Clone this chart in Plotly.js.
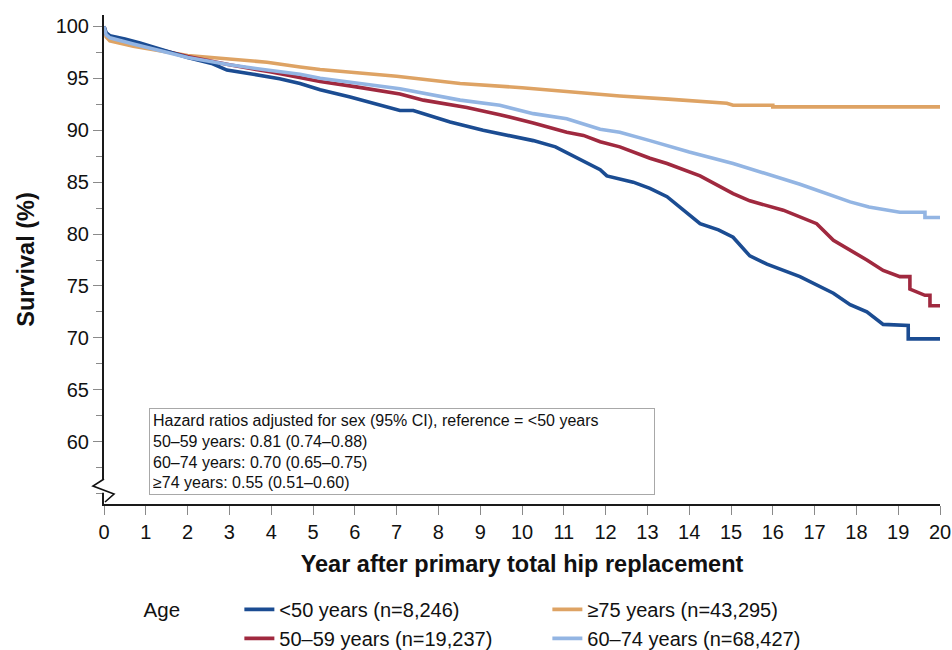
<!DOCTYPE html>
<html>
<head>
<meta charset="utf-8">
<script src="https://cdn.plot.ly/plotly-3.0.1.min.js"></script>
<style>html,body{margin:0;padding:0;background:#fff;}#chart{width:952px;height:650px;}</style>
</head>
<body>
<div id="chart"></div>
<script>
// ---- data (years after surgery, survival %) ----
var seriesNames = ["&lt;50 years (n=8,246)", "50–59 years (n=19,237)", "≥75 years (n=43,295)", "60–74 years (n=68,427)"];

var yrsLt50 = [0, 0.05, 0.14, 0.5, 0.86, 1.34, 2.0, 2.6, 2.94, 3.57, 4.2, 4.69, 5.17, 5.89, 6.5, 7.08, 7.4, 8.28, 9.07, 10.27, 10.8, 11.3, 11.87, 12.03, 12.66, 13.06, 13.47, 14.26, 14.7, 15.05, 15.45, 15.86, 16.65, 17.45, 17.85, 18.25, 18.64, 19.24, 19.24, 20];
var survLt50 = [100, 99.4, 99.1, 98.8, 98.4, 97.8, 97.0, 96.4, 95.8, 95.4, 94.95, 94.5, 93.9, 93.2, 92.5, 91.9, 91.9, 90.8, 90.0, 89.0, 88.4, 87.4, 86.2, 85.6, 85.0, 84.4, 83.6, 81.0, 80.4, 79.7, 77.9, 77.1, 75.9, 74.3, 73.2, 72.5, 71.3, 71.2, 69.9, 69.9];

var yrs5059 = [0, 0.05, 0.14, 0.86, 2.0, 3.0, 4.0, 4.69, 5.17, 6.0, 7.08, 7.64, 8.68, 9.47, 10.27, 11.07, 11.47, 11.87, 12.34, 13.06, 13.47, 14.26, 15.05, 15.45, 16.25, 17.05, 17.45, 18.25, 18.64, 19.04, 19.28, 19.28, 19.64, 19.76, 19.76, 20];
var surv5059 = [100, 99.3, 99.0, 98.2, 97.1, 96.3, 95.6, 95.1, 94.7, 94.2, 93.5, 92.9, 92.2, 91.5, 90.7, 89.8, 89.5, 88.9, 88.4, 87.3, 86.8, 85.6, 83.9, 83.2, 82.3, 81.0, 79.4, 77.5, 76.5, 75.9, 75.9, 74.7, 74.1, 74.1, 73.1, 73.1];

var yrsGe75 = [0, 0.05, 0.14, 0.7, 2.0, 3.9, 4.69, 5.17, 7.0, 8.52, 10.0, 11.87, 12.34, 13.5, 14.9, 15.05, 16.0, 16.0, 20];
var survGe75 = [100, 99.0, 98.6, 98.1, 97.2, 96.55, 96.1, 95.85, 95.2, 94.5, 94.1, 93.4, 93.3, 93.0, 92.6, 92.4, 92.4, 92.25, 92.25];

var yrs6074 = [0, 0.05, 0.14, 0.7, 2.0, 3.0, 3.9, 4.69, 5.17, 6.0, 7.08, 8.52, 9.47, 10.27, 11.07, 11.87, 12.34, 13.06, 14.0, 15.05, 15.85, 16.65, 17.85, 18.3, 19.04, 19.64, 19.64, 20];
var surv6074 = [100, 99.2, 98.9, 98.3, 97.0, 96.3, 95.8, 95.4, 95.0, 94.6, 94.0, 92.9, 92.4, 91.6, 91.1, 90.1, 89.8, 89.0, 87.9, 86.8, 85.8, 84.8, 83.1, 82.6, 82.1, 82.1, 81.6, 81.6];

var yTickVals = [60, 65, 70, 75, 80, 85, 90, 95, 100];
var xTickVals = [0,1,2,3,4,5,6,7,8,9,10,11,12,13,14,15,16,17,18,19,20];

var legendTitle = "Age";
var hrTitle = "Hazard ratios adjusted for sex (95% CI), reference = &lt;50 years";
var hrGroups = ["50–59 years", "60–74 years", "≥74 years"];
var hrValues = ["0.81 (0.74–0.88)", "0.70 (0.65–0.75)", "0.55 (0.51–0.60)"];

// ---- styling ----
var FONT = "Liberation Sans, Arial, Helvetica, sans-serif";
var colors = {lt50: "#1b4c92", s5059: "#a0293f", ge75: "#dea364", s6074: "#93b5e3"};
var LW = 3.6;

function tr(x, y, name, color, rank) {
  return {type: "scatter", mode: "lines", x: x, y: y, name: name, legendrank: rank,
          line: {color: color, width: LW, shape: "linear"}, hoverinfo: "x+y+name"};
}

var data = [
  tr(yrsGe75, survGe75, seriesNames[2], colors.ge75, 2),
  tr(yrs5059, surv5059, seriesNames[1], colors.s5059, 3),
  tr(yrsLt50, survLt50, seriesNames[0], colors.lt50, 1),
  tr(yrs6074, surv6074, seriesNames[3], colors.s6074, 4)
];

var hrLines = [hrTitle];
for (var i = 0; i < hrGroups.length; i++) hrLines.push(hrGroups[i] + ": " + hrValues[i]);

var layout = {
  width: 952, height: 650,
  margin: {l: 104, r: 12, t: 15, b: 146, autoexpand: false},
  paper_bgcolor: "#fff", plot_bgcolor: "#fff",
  font: {family: FONT, color: "#111", size: 20},
  showlegend: true,
  legend: {
    orientation: "h", x: 0.045, xanchor: "left", y: -0.1757, yanchor: "top",
    font: {family: FONT, size: 20, color: "#111"},
    title: {text: legendTitle + "&nbsp;&nbsp;&nbsp;&nbsp;&nbsp;&nbsp;&nbsp;&nbsp;&nbsp;", side: "left", font: {family: FONT, size: 20.5, color: "#111"}},
    entrywidth: 263, entrywidthmode: "pixels",
    traceorder: "normal", bgcolor: "rgba(0,0,0,0)"
  },
  xaxis: {
    range: [0, 20], tickmode: "array", tickvals: xTickVals, automargin: false,
    showline: true, linecolor: "#1a1a1a", linewidth: 2,
    ticks: "outside", ticklen: 9, tickwidth: 1, tickcolor: "#8a8a8a",
    showgrid: false, zeroline: false,
    tickfont: {family: FONT, size: 20, color: "#111"},
    title: {text: "Year after primary total hip replacement", standoff: 14,
            font: {family: FONT, size: 23.5, color: "#111", weight: "bold"}}
  },
  yaxis: {
    range: [54, 101.1], tickmode: "array", tickvals: yTickVals, automargin: false,
    showline: true, linecolor: "#1a1a1a", linewidth: 2,
    ticks: "outside", ticklen: 9, tickwidth: 1, tickcolor: "#8a8a8a",
    minor: {tickmode: "linear", tick0: 0, dtick: 2.5, ticks: "outside", ticklen: 6, tickwidth: 1, tickcolor: "#8a8a8a", showgrid: false},
    showgrid: false, zeroline: false,
    tickfont: {family: FONT, size: 20, color: "#111"},
    title: {text: "Survival (%)", standoff: 14,
            font: {family: FONT, size: 23.5, color: "#111", weight: "bold"}}
  },
  annotations: [{
    xref: "paper", yref: "paper", x: 0.0538, y: 0.1963, xanchor: "left", yanchor: "top",
    text: hrLines.join("<br>"), align: "left", showarrow: false,
    font: {family: FONT, size: 16, color: "#111"},
    bordercolor: "#a8a8a8", borderwidth: 1, borderpad: 3, bgcolor: "#fff",
    width: 498
  }],
  shapes: [
    // axis-break: hide a short stretch of the y axis line
    {type: "line", xref: "paper", yref: "paper", x0: 0, x1: 0, y0: 0.023, y1: 0.050,
     line: {color: "#fff", width: 5}, layer: "above"},
    // axis-break zigzag mark
    {type: "path", xref: "paper", yref: "paper", layer: "above",
     path: "M 0,0.0511 L -0.0132,0.0368 L 0.0120,0.0204 L 0.0012,0.0041",
     line: {color: "#111", width: 1.6}}
  ]
};

Plotly.newPlot("chart", data, layout, {displayModeBar: false, staticPlot: true});
</script>
</body>
</html>
